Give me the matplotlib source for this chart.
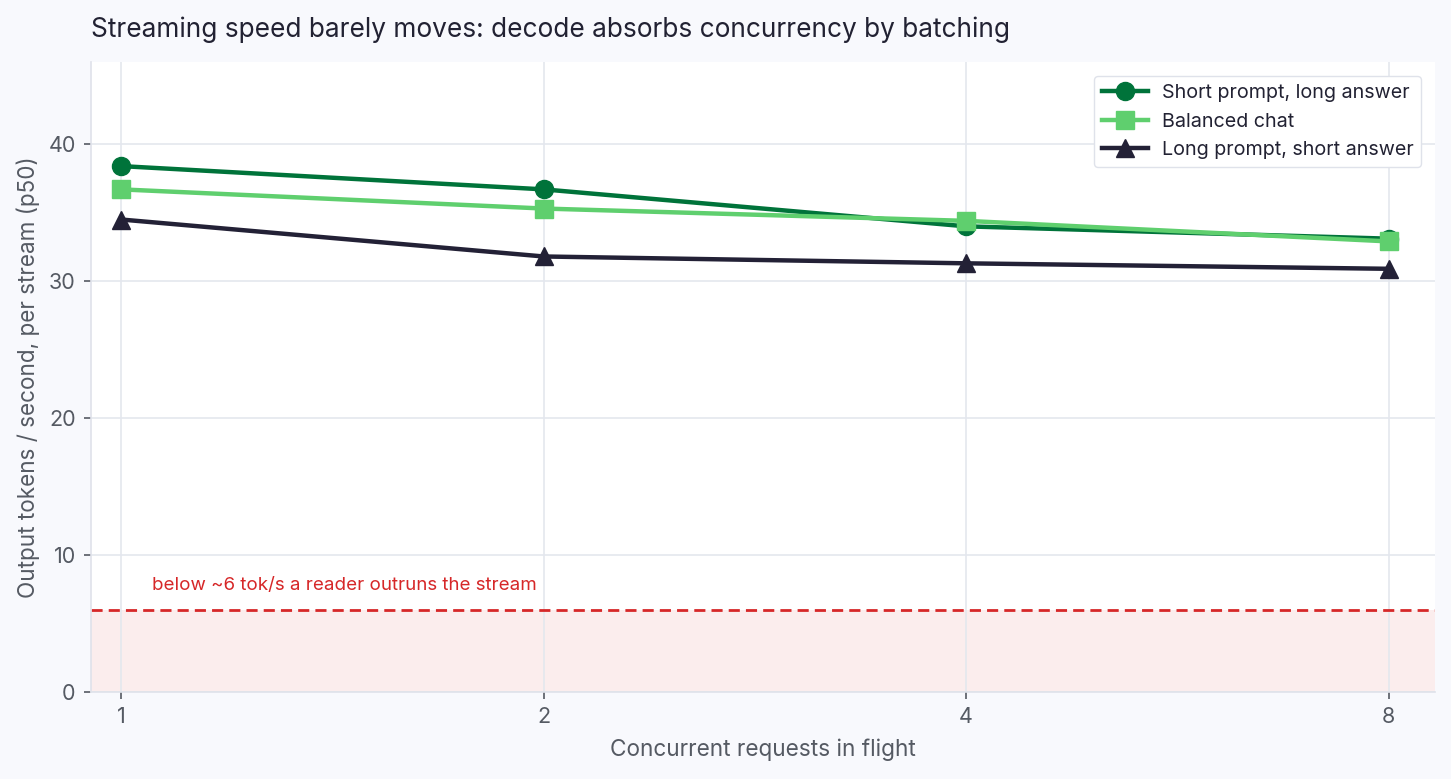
import matplotlib
matplotlib.use("Agg")
import matplotlib.pyplot as plt
from matplotlib.ticker import FixedLocator, NullLocator

concurrency = [1, 2, 4, 8]
short_prompt_long_answer = [38.4, 36.7, 34.0, 33.1]
balanced_chat = [36.7, 35.3, 34.4, 32.9]
long_prompt_short_answer = [34.5, 31.8, 31.3, 30.9]
threshold = 6
series_labels = ["Short prompt, long answer", "Balanced chat", "Long prompt, short answer"]

plt.rcParams['font.family'] = ['Inter', 'DejaVu Sans']

fig = plt.figure(figsize=(14.51, 7.79), dpi=100, facecolor='#f8f9fd')
ax = fig.add_axes([91/1451, 1-692/779, (1435-91)/1451, (692-62)/779])
ax.set_facecolor('white')

ax.axhspan(0, threshold, color='#fbeded', zorder=0, lw=0)
ax.axhline(threshold, color='#d62728', ls=(0, (4, 2.2)), lw=2, zorder=1)
ax.text(1.052, threshold + 1.15, "below ~6 tok/s a reader outruns the stream",
        color='#d62728', fontsize=13.5, va='bottom', ha='left')

ax.plot(concurrency, short_prompt_long_answer, color='#00733a', marker='o', ms=13, lw=3.2,
        label=series_labels[0], zorder=3)
ax.plot(concurrency, balanced_chat, color='#5fcf6e', marker='s', ms=13, lw=3.2,
        label=series_labels[1], zorder=4)
ax.plot(concurrency, long_prompt_short_answer, color='#232136', marker='^', ms=13.5, lw=3.2,
        label=series_labels[2], zorder=3)

ax.set_xscale('log', base=2)
ax.xaxis.set_major_locator(FixedLocator(concurrency))
ax.xaxis.set_minor_locator(NullLocator())
ax.set_xticklabels([str(c) for c in concurrency])
ax.set_xlim(0.952, 8.63)
ax.set_ylim(0, 46)
ax.set_yticks([0, 10, 20, 30, 40])

ax.grid(True, color='#e4e7ee', lw=1.2, zorder=0)
ax.set_axisbelow(True)
for s in ['top', 'right']:
    ax.spines[s].set_visible(False)
for s in ['left', 'bottom']:
    ax.spines[s].set_color('#dfe2ea')
    ax.spines[s].set_linewidth(1.2)
ax.tick_params(colors='#555a63', labelsize=15.5, length=5, width=1.2, pad=6)

ax.set_xlabel("Concurrent requests in flight", fontsize=16.3, color='#555a63', labelpad=8)
ax.set_ylabel("Output tokens / second, per stream (p50)", fontsize=16.2, color='#555a63', labelpad=6)
ax.set_title("Streaming speed barely moves: decode absorbs concurrency by batching",
             loc='left', fontsize=18.9, color='#222233', pad=18)

leg = ax.legend(loc='upper right', fontsize=14.2, frameon=True, facecolor='white',
                edgecolor='#dfe2ea', framealpha=1, borderpad=0.4, handlelength=2.3,
                labelspacing=0.55, borderaxespad=0.7, handletextpad=0.7)
for t in leg.get_texts():
    t.set_color('#222233')

fig.savefig('out.png', dpi=100, facecolor=fig.get_facecolor())
